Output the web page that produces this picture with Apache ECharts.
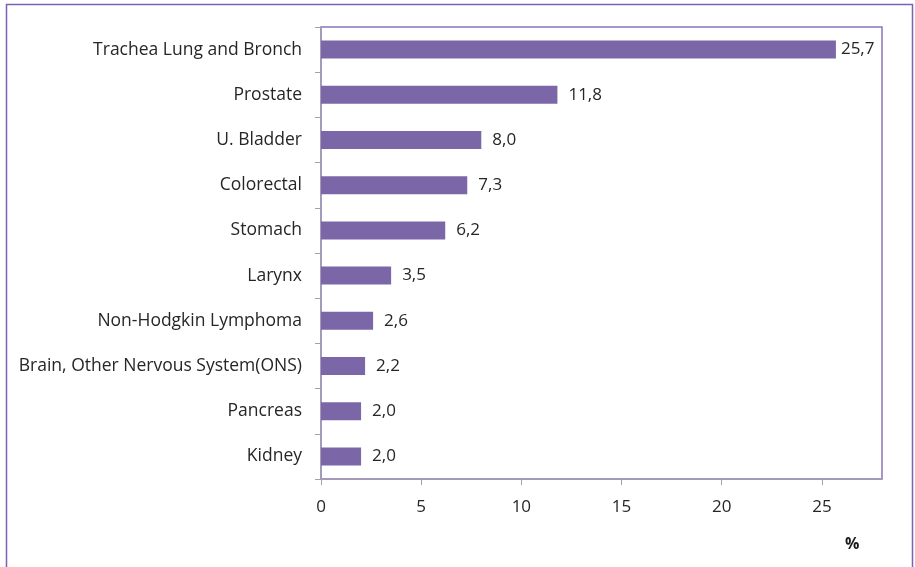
<!DOCTYPE html>
<html>
<head>
<meta charset="utf-8">
<script src="https://cdn.jsdelivr.net/npm/echarts@6/dist/echarts.min.js"></script>
<style>
  html, body { margin: 0; padding: 0; background: #fff; }
  #chart { width: 915px; height: 567px; }
</style>
</head>
<body>
<div id="chart"></div>
<script>
// Cancer sites, top to bottom
const categories = [
  'Trachea Lung and Bronch',
  'Prostate',
  'U. Bladder',
  'Colorectal',
  'Stomach',
  'Larynx',
  'Non-Hodgkin Lymphoma',
  'Brain, Other Nervous System(ONS)',
  'Pancreas',
  'Kidney'
];
// Share of cases, percent
const percentValues = [25.7, 11.8, 8.0, 7.3, 6.2, 3.5, 2.6, 2.2, 2.0, 2.0];
const xTicks = [0, 5, 10, 15, 20, 25];

const FONT = '"Open Sans", "Noto Sans", sans-serif';
const AXIS_GREY = '#a19db3';
const AXIS_MAX = 28;
const chart = echarts.init(document.getElementById('chart'));

// Labels sit a little further from the bar, except where the bar nearly fills the plot
const barData = percentValues.map(v => ({
  value: v,
  label: { distance: v > AXIS_MAX - 4 ? 5 : 11 }
}));

chart.setOption({
  animation: false,
  textStyle: { fontFamily: FONT },
  graphic: [
    {
      type: 'rect',
      shape: { x: 6.5, y: 4.5, width: 906, height: 600 },
      style: { fill: 'none', stroke: '#7b62b3', lineWidth: 1.5 },
      silent: true
    },
    {
      type: 'text',
      left: 845, top: 536,
      style: { text: '%', font: 'bold 16px ' + FONT, fill: '#1a1a1a' }
    }
  ],
  grid: {
    left: 321, right: 33, top: 27, bottom: 88,
    show: true, borderColor: '#8a74bb', borderWidth: 1.5, backgroundColor: 'transparent'
  },
  xAxis: {
    type: 'value',
    min: 0, max: AXIS_MAX, interval: 5,
    axisLine: { show: true, lineStyle: { color: AXIS_GREY, width: 1.5 } },
    axisTick: { show: true, inside: false, length: 6, lineStyle: { color: AXIS_GREY },
      customValues: xTicks },
    axisLabel: { color: '#262626', fontSize: 17, margin: 20, fontFamily: FONT,
      customValues: xTicks },
    splitLine: { show: false }
  },
  yAxis: {
    type: 'category',
    data: categories,
    inverse: true,
    axisLine: { show: true, lineStyle: { color: AXIS_GREY, width: 1.5 } },
    axisTick: { show: true, length: 6, lineStyle: { color: AXIS_GREY } },
    axisLabel: { color: '#262626', fontSize: 17.5, margin: 19, fontFamily: FONT }
  },
  series: [{
    type: 'bar',
    data: barData,
    barWidth: 18,
    itemStyle: { color: '#7b67a8' },
    label: {
      show: true, position: 'right',
      color: '#262626', fontSize: 17, fontFamily: FONT,
      formatter: p => p.value.toFixed(1).replace('.', ',')
    }
  }]
});
</script>
</body>
</html>
